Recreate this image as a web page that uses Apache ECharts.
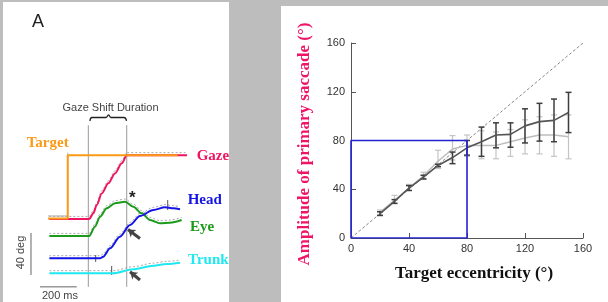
<!DOCTYPE html>
<html>
<head>
<meta charset="utf-8">
<script src="https://cdn.jsdelivr.net/npm/echarts@6/dist/echarts.min.js"></script>
<style>html,body{margin:0;padding:0;background:#bdbdbd;}#c{width:608px;height:302px;}</style>
</head>
<body>
<div id="c"></div>
<script>
// ---------- Panel A: schematic traces (time in ms, position in deg) ----------
const targetT = [44, 151, 151, 749];
const targetD = [68, 68, 128.3, 128.3];
const gazeT = [51, 268, 290, 309, 336, 372, 408, 445, 472, 800];
const gazeD = [67.6, 67.6, 73, 81, 92, 101.6, 111, 120.7, 128.3, 128.3];
const eyeT = [51, 268, 299, 327, 363, 408, 463, 508, 553, 599, 653, 707, 771];
const eyeD = [51.4, 51.4, 60.3, 69.8, 77.8, 82.6, 84.1, 79.3, 73, 66.7, 63.5, 64.1, 66.7];
const headT = [51, 327, 344, 381, 435, 490, 544, 617, 680, 725, 762];
const headD = [30.2, 30.2, 31.7, 39.7, 50.8, 61.9, 70.5, 76.2, 78.8, 77.8, 76.9];
const trunkT = [51, 399, 508, 617, 690, 762];
const trunkD = [15.9, 15.9, 19.7, 23.1, 24.8, 26];
const shiftStartT = 263, shiftEndT = 472;       // gaze shift duration markers
const markerTicks = [[303, 26.7, 33.3], [695, 76.2, 85.7], [390, 14.3, 22.9]]; // [t, low, high]
const arrowsA = [[[544, 49], [479, 57.6]], [[544, 9.5], [490, 17.4]]];
const braceT = [272, 283, 359, 373, 386, 457, 471];
const braceD = [161, 164.3, 164.3, 166.7, 164.3, 164.3, 161];
const scaleTime = [0, 200];       // 200 ms bar
const scaleDeg = [14.3, 54.3];    // 40 deg bar

// ---------- Panel B: amplitude vs eccentricity ----------
const ecc = [20, 30, 40, 50, 60, 70, 80, 90, 100, 110, 120, 130, 140, 150];
const darkMean = [20, 30, 41, 50, 59.5, 66, 74, 79, 84.5, 85, 92, 95.5, 96.5, 103];
const darkLow = [18.5, 28.5, 39, 48.5, 58.5, 61, 68, 67, 74, 74.5, 78, 79.5, 79, 86.5];
const darkHigh = [21.5, 31.5, 43, 51.5, 60.5, 70.5, 80, 91, 94.5, 94.5, 106, 110.5, 114, 119.5];
const lightMean = [21, 31, 41, 51, 63, 73, 76, 76, 76, 79, 82, 84.5, 84.5, 83];
const lightLow = [19, 28, 39, 48, 57, 64, 67, 65, 65, 67, 69, 69, 67, 65];
const lightHigh = [23, 35, 44, 54, 72, 84, 84.5, 88, 87, 89, 97, 99.5, 101, 101];
const unityLine = [0, 160];
const boxCorner = 80;
const ticksB = [0, 40, 80, 120, 160];

const zip = (a, b) => a.map((v, i) => [v, b[i]]);
const chart = echarts.init(document.getElementById('c'), null, {renderer: 'canvas'});

const PINK = '#f0155f', ORANGE = '#fb9a17', GREEN = '#1b9a1b', BLUE = '#1414e6', CYAN = '#1ee8f0';

function trace(name, t, d, color, w, z) {
  return {name, type: 'line', xAxisIndex: 0, yAxisIndex: 0, data: zip(t, d), showSymbol: false, symbol: 'none',
    smooth: 0.3, smoothMonotone: 'x', lineStyle: {color, width: w}, z: z || 5, silent: true};
}
function ghost(t, d, dashed) {
  return {type: 'line', xAxisIndex: 0, yAxisIndex: 1, data: zip(t, d), symbol: 'none', smooth: 0.3, smoothMonotone: 'x',
    lineStyle: {color: '#a8a8a8', width: 1, type: dashed ? [2, 2] : 'solid'}, z: 3, silent: true};
}
function seg(p, q, color, w, xi, yi) {
  return {type: 'line', xAxisIndex: xi || 0, yAxisIndex: yi || 0, data: [p, q], symbol: 'none',
    lineStyle: {color, width: w}, z: 4, silent: true};
}
function errBars(low, high, color, w, z) {
  return {type: 'custom', xAxisIndex: 1, yAxisIndex: 2, z, silent: true,
    data: ecc.map((x, i) => [x, low[i], high[i]]),
    renderItem: function (params, api) {
      const a = api.coord([api.value(0), api.value(1)]);
      const b = api.coord([api.value(0), api.value(2)]);
      const cw = 3;
      const st = {stroke: color, lineWidth: w};
      return {type: 'group', children: [
        {type: 'line', shape: {x1: a[0], y1: a[1], x2: b[0], y2: b[1]}, style: st},
        {type: 'line', shape: {x1: a[0] - cw, y1: a[1], x2: a[0] + cw, y2: a[1]}, style: st},
        {type: 'line', shape: {x1: b[0] - cw, y1: b[1], x2: b[0] + cw, y2: b[1]}, style: st}
      ]};
    }};
}

const series = [
  seg([shiftStartT, 3], [shiftStartT, 157], '#9a9a9a', 1),
  seg([shiftEndT, 3], [shiftEndT, 157], '#9a9a9a', 1),
  {type: 'line', xAxisIndex: 0, yAxisIndex: 0, data: zip(braceT, braceD), symbol: 'none', smooth: 0.5,
    lineStyle: {color: '#222', width: 1.3}, silent: true, z: 4},
  ghost([44, 151, 151], [68, 68, 128.3], false),
  ghost(gazeT, gazeD, true),
  ghost(eyeT, eyeD, true),
  ghost(headT, headD, true),
  ghost(trunkT, trunkD, true),
  trace('Gaze', gazeT, gazeD, PINK, 2, 5),
  trace('Eye', eyeT, eyeD, GREEN, 2, 5),
  trace('Head', headT, headD, BLUE, 2, 6),
  trace('Trunk', trunkT, trunkD, CYAN, 2, 5),
  {name: 'Target', type: 'line', xAxisIndex: 0, yAxisIndex: 0, data: zip(targetT, targetD), symbol: 'none',
    lineStyle: {color: ORANGE, width: 2}, z: 7, silent: true},
  seg([scaleTime[0], 3], [scaleTime[1], 3], '#666', 1),
  seg([-49, scaleDeg[0]], [-49, scaleDeg[1]], '#666', 1),
  ...markerTicks.map(m => seg([m[0], m[1]], [m[0], m[2]], '#555', 1)),
  {type: 'lines', coordinateSystem: 'cartesian2d', xAxisIndex: 0, yAxisIndex: 0, z: 8, silent: true,
    symbol: ['none', 'arrow'], symbolSize: 7,
    lineStyle: {color: '#444', width: 3, opacity: 1},
    data: arrowsA.map(c => ({coords: c}))},

  // ---------- Panel B ----------
  {type: 'line', xAxisIndex: 1, yAxisIndex: 2, data: [[unityLine[0], unityLine[0]], [unityLine[1], unityLine[1]]],
    symbol: 'none', lineStyle: {color: '#8a8a8a', width: 1, type: [3, 2]}, z: 2, silent: true},
  {type: 'line', xAxisIndex: 1, yAxisIndex: 2,
    data: [[0, 0], [0, boxCorner], [boxCorner, boxCorner], [boxCorner, 0], [0, 0]],
    symbol: 'none', lineStyle: {color: '#2323d2', width: 1.6}, z: 6, silent: true},
  errBars(lightLow, lightHigh, '#c4c4c4', 1.2, 3),
  {type: 'line', xAxisIndex: 1, yAxisIndex: 2, data: zip(ecc, lightMean), symbol: 'none',
    lineStyle: {color: '#bdbdbd', width: 1.5}, z: 3, silent: true},
  errBars(darkLow, darkHigh, '#3e3e3e', 1.5, 5),
  {type: 'line', xAxisIndex: 1, yAxisIndex: 2, data: zip(ecc, darkMean), symbol: 'none',
    lineStyle: {color: '#555', width: 1.6}, z: 5, silent: true}
];

const sansLbl = {fontFamily: 'Liberation Sans', fontSize: 11, fill: '#444'};
const serifB = (c) => ({fontFamily: 'Liberation Serif', fontWeight: 'bold', fontSize: 15, fill: c});

const option = {
  backgroundColor: '#bdbdbd',
  animation: false,
  graphic: [
    {type: 'rect', z: -10, shape: {x: 3, y: 2, width: 226, height: 300}, style: {fill: '#fff'}, silent: true},
    {type: 'rect', z: -10, shape: {x: 281, y: 6, width: 327, height: 296}, style: {fill: '#fff'}, silent: true},
    {type: 'text', z: 10, x: 38, y: 22, style: {text: 'A', fontFamily: 'Liberation Sans', fontSize: 18, fill: '#222', align: 'center', verticalAlign: 'middle'}},
    {type: 'text', z: 10, x: 110.5, y: 108, style: Object.assign({text: 'Gaze Shift Duration', align: 'center', verticalAlign: 'middle'}, sansLbl)},
    {type: 'text', z: 10, x: 26.7, y: 143, style: Object.assign({text: 'Target', align: 'left', verticalAlign: 'middle'}, serifB(ORANGE))},
    {type: 'text', z: 10, x: 196.7, y: 156, style: Object.assign({text: 'Gaze', align: 'left', verticalAlign: 'middle'}, serifB(PINK))},
    {type: 'text', z: 10, x: 187.7, y: 200.5, style: Object.assign({text: 'Head', align: 'left', verticalAlign: 'middle'}, serifB(BLUE))},
    {type: 'text', z: 10, x: 190, y: 227, style: Object.assign({text: 'Eye', align: 'left', verticalAlign: 'middle'}, serifB(GREEN))},
    {type: 'text', z: 10, x: 188, y: 260.5, style: Object.assign({text: 'Trunk', align: 'left', verticalAlign: 'middle'}, serifB(CYAN))},
    {type: 'text', z: 10, x: 132.3, y: 198, style: {text: '*', fontFamily: 'Liberation Sans', fontWeight: 'bold', fontSize: 17, fill: '#222', align: 'center', verticalAlign: 'middle'}},
    {type: 'text', z: 10, x: 21, y: 252.5, rotation: Math.PI / 2, style: Object.assign({text: '40 deg', align: 'center', verticalAlign: 'middle'}, sansLbl)},
    {type: 'text', z: 10, x: 60, y: 295.5, style: Object.assign({text: '200 ms', align: 'center', verticalAlign: 'middle'}, sansLbl)},
    {type: 'text', z: 10, x: 305, y: 144, rotation: Math.PI / 2, style: {text: 'Amplitude of primary saccade (°)', fontFamily: 'Liberation Serif', fontWeight: 'bold', fontSize: 17, fill: '#ee1468', align: 'center', verticalAlign: 'middle'}},
    {type: 'text', z: 10, x: 474, y: 273.5, style: {text: 'Target eccentricity (°)', fontFamily: 'Liberation Serif', fontWeight: 'bold', fontSize: 17, fill: '#111', align: 'center', verticalAlign: 'middle'}}
  ],
  grid: [
    {left: 3.25, width: 183.75, top: 101, height: 199.5},
    {left: 351, width: 232, top: 43, height: 195}
  ],
  xAxis: [
    {gridIndex: 0, type: 'value', min: -200, max: 800, show: false},
    {gridIndex: 1, type: 'value', min: ticksB[0], max: ticksB[ticksB.length - 1], interval: 40,
      axisLine: {show: true, onZero: false, lineStyle: {color: '#555', width: 1}},
      axisTick: {show: true, inside: true, length: 5, lineStyle: {color: '#555'}},
      splitLine: {show: false},
      axisLabel: {color: '#333', fontFamily: 'Liberation Sans', fontSize: 11, margin: 5}}
  ],
  yAxis: [
    {gridIndex: 0, type: 'value', min: -10, max: 180, show: false},
    {gridIndex: 0, type: 'value', min: -12.5, max: 177.5, show: false},
    {gridIndex: 1, type: 'value', min: ticksB[0], max: ticksB[ticksB.length - 1], interval: 40,
      axisLine: {show: true, onZero: false, lineStyle: {color: '#555', width: 1}},
      axisTick: {show: true, inside: true, length: 5, lineStyle: {color: '#555'}},
      splitLine: {show: false},
      axisLabel: {color: '#333', fontFamily: 'Liberation Sans', fontSize: 11, margin: 6}}
  ],
  series
};
chart.setOption(option);
</script>
</body>
</html>
